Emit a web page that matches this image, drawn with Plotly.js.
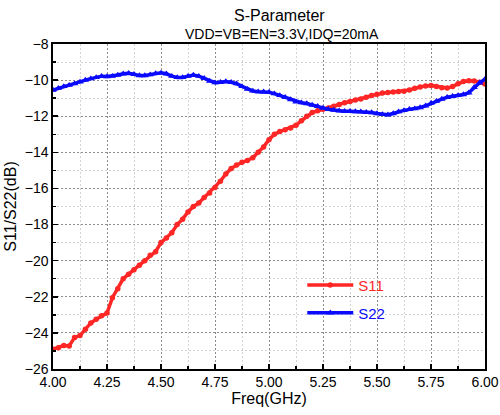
<!DOCTYPE html>
<html>
<head>
<meta charset="utf-8">
<script src="https://cdn.plot.ly/plotly-3.0.1.min.js"></script>
<style>html,body{margin:0;padding:0;background:#fff}#chart{width:500px;height:415px}</style>
</head>
<body>
<div id="chart"></div>
<script>
const freq = [4.000,4.025,4.050,4.075,4.100,4.125,4.150,4.175,4.200,4.225,4.250,4.275,4.300,4.325,4.350,4.375,4.400,4.425,4.450,4.475,
4.500,4.525,4.550,4.575,4.600,4.625,4.650,4.675,4.700,4.725,4.750,4.775,4.800,4.825,4.850,4.875,4.900,4.925,4.950,4.975,
5.000,5.025,5.050,5.075,5.100,5.125,5.150,5.175,5.200,5.225,5.250,5.275,5.300,5.325,5.350,5.375,5.400,5.425,5.450,5.475,
5.500,5.525,5.550,5.575,5.600,5.625,5.650,5.675,5.700,5.725,5.750,5.775,5.800,5.825,5.850,5.875,5.900,5.925,5.950,5.975,6.000];

const s11 = [-24.9,-24.82,-24.7,-24.72,-24.25,-24.15,-23.8,-23.45,-23.25,-23.05,-22.9,-22.05,-21.55,-21.0,-20.75,-20.5,-20.25,-20.0,-19.7,-19.5,
-19.0,-18.75,-18.45,-18.0,-17.7,-17.3,-17.0,-16.8,-16.5,-16.25,-15.95,-15.6,-15.2,-14.9,-14.7,-14.55,-14.45,-14.3,-14.0,-13.7,
-13.3,-13.0,-12.85,-12.75,-12.65,-12.5,-12.25,-12.0,-11.8,-11.7,-11.62,-11.55,-11.45,-11.35,-11.25,-11.18,-11.1,-11.05,-10.95,-10.85,
-10.78,-10.72,-10.68,-10.66,-10.63,-10.62,-10.55,-10.45,-10.38,-10.32,-10.3,-10.35,-10.42,-10.44,-10.35,-10.2,-10.08,-10.03,-10.05,-10.12,-10.22];

const s22 = [-10.55,-10.45,-10.35,-10.28,-10.2,-10.1,-10.0,-9.92,-9.85,-9.78,-9.8,-9.78,-9.72,-9.65,-9.62,-9.68,-9.75,-9.75,-9.7,-9.63,
-9.6,-9.65,-9.78,-9.85,-9.85,-9.78,-9.72,-9.78,-9.9,-10.05,-10.14,-10.12,-10.08,-10.12,-10.2,-10.35,-10.5,-10.6,-10.64,-10.65,
-10.67,-10.75,-10.85,-10.95,-11.08,-11.2,-11.25,-11.3,-11.38,-11.45,-11.55,-11.62,-11.66,-11.7,-11.72,-11.73,-11.74,-11.75,-11.78,-11.8,
-11.85,-11.9,-11.92,-11.85,-11.75,-11.68,-11.62,-11.58,-11.52,-11.42,-11.28,-11.17,-11.05,-10.95,-10.9,-10.85,-10.8,-10.7,-10.4,-10.15,-9.95];

const seriesNames = ['S11', 'S22'];
const titleText = 'S-Parameter';
const subtitleText = 'VDD=VB=EN=3.3V,IDQ=20mA';
const xTitle = 'Freq(GHz)';
const yTitle = 'S11/S22(dB)';

const RED = '#ff2626';
const BLUE = '#0a0aff';
const FONT = 'Arial, "Liberation Sans", sans-serif';

const traces = [
  {x: freq, y: s11, type: 'scatter', mode: 'lines+markers',
   name: '<span style="color:' + RED + '">' + seriesNames[0] + '</span>',
   line: {color: RED, width: 3.5}, marker: {symbol: 'circle', size: 5.5, color: RED}, legend: 'legend'},
  {x: freq, y: s22, type: 'scatter', mode: 'lines+markers',
   name: '<span style="color:' + BLUE + '">' + seriesNames[1] + '</span>',
   line: {color: BLUE, width: 3.5}, marker: {symbol: 'triangle-up', size: 6.5, color: BLUE}, legend: 'legend2'}
];

const axisCommon = {
  showline: true, linecolor: '#000', linewidth: 1.6, mirror: true,
  ticks: 'inside', ticklen: 5, tickwidth: 1.5, tickcolor: '#000',
  showgrid: true, gridcolor: '#8c8c8c', griddash: '2px,2px', gridwidth: 1,
  zeroline: false,
  tickfont: {family: FONT, size: 14, color: '#000'}
};

const layout = {
  width: 500, height: 415,
  margin: {l: 53, r: 15, t: 44, b: 46},
  paper_bgcolor: '#fff', plot_bgcolor: '#fff',
  font: {family: FONT, color: '#000'},
  showlegend: true,
  xaxis: Object.assign({}, axisCommon, {
    range: [4, 6], tick0: 4, dtick: 0.25, tickformat: '.2f',
    minor: {dtick: 0.125, ticks: 'inside', ticklen: 3, tickcolor: '#000', showgrid: true, gridcolor: '#d2d2d2', griddash: '2px,2px', gridwidth: 1},
    title: {text: xTitle, font: {family: FONT, size: 16, color: '#000'}, standoff: 2}
  }),
  yaxis: Object.assign({}, axisCommon, {
    range: [-26, -8], tick0: -26, dtick: 2,
    minor: {dtick: 1, ticks: 'inside', ticklen: 3, tickcolor: '#000', showgrid: true, gridcolor: '#d2d2d2', griddash: '2px,2px', gridwidth: 1},
    title: {text: yTitle, font: {family: FONT, size: 16, color: '#000'}, standoff: 4}
  }),
  legend: {x: 0.577, y: 0.258, xanchor: 'left', yanchor: 'middle', bgcolor: 'rgba(0,0,0,0)',
    font: {family: FONT, size: 15}, itemwidth: 46},
  legend2: {x: 0.577, y: 0.172, xanchor: 'left', yanchor: 'middle', bgcolor: 'rgba(0,0,0,0)',
    font: {family: FONT, size: 15}, itemwidth: 46},
  annotations: [
    {text: titleText, xref: 'paper', yref: 'paper', x: 0.525, y: 1 + (44 - 15) / 325, xanchor: 'center', yanchor: 'middle',
     showarrow: false, font: {family: FONT, size: 16, color: '#000'}},
    {text: subtitleText, xref: 'paper', yref: 'paper', x: 0.53, y: 1 + (44 - 34) / 325, xanchor: 'center', yanchor: 'middle',
     showarrow: false, font: {family: FONT, size: 14, color: '#000'}}
  ]
};

Plotly.newPlot('chart', traces, layout, {displayModeBar: false, staticPlot: true});
</script>
</body>
</html>
